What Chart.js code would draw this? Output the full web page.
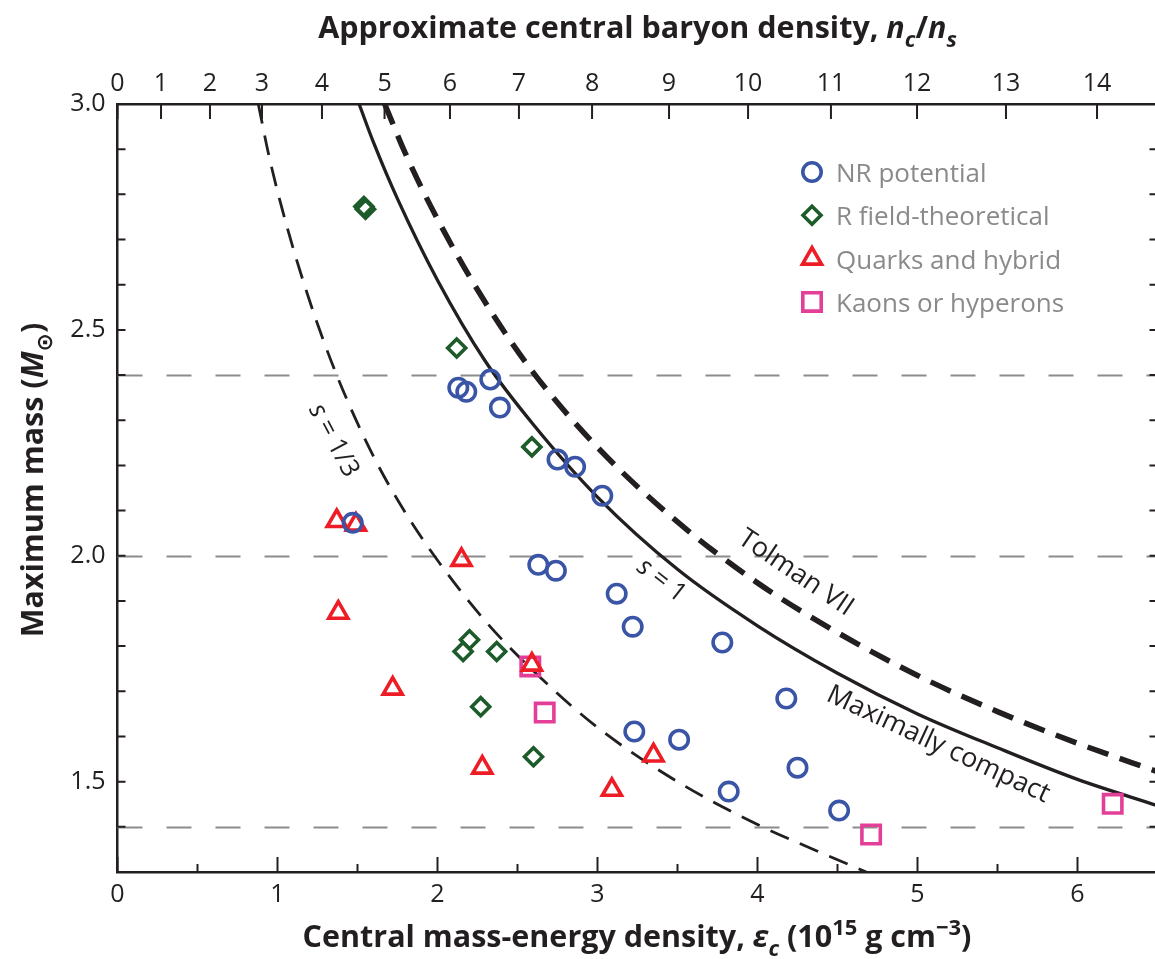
<!DOCTYPE html>
<html>
<head>
<meta charset="utf-8">
<script src="https://cdn.jsdelivr.net/npm/chart.js@4.4.1/dist/chart.umd.min.js"></script>
<style>
  html, body { margin: 0; padding: 0; background: #fff; overflow: hidden; }
  #wrap { position: relative; width: 1160px; height: 959px; }
</style>
</head>
<body>
<div id="wrap"><canvas id="chart" width="1160" height="959"></canvas></div>
<script>
// values: [central density eps_c, max mass]
const nrPotential = [
  [2.13, 2.372], [2.18, 2.363], [2.33, 2.390], [2.39, 2.328], [2.75, 2.213], [2.86, 2.197],
  [3.03, 2.133], [1.47, 2.073], [2.63, 1.980], [2.74, 1.967], [3.12, 1.916], [3.22, 1.843],
  [3.23, 1.611], [3.78, 1.808], [4.18, 1.684], [3.51, 1.593], [4.25, 1.531], [3.82, 1.478],
  [4.51, 1.436]
]
const rFieldTheoretical = [
  [1.54, 2.773], [1.55, 2.767], [2.12, 2.460], [2.59, 2.241], [2.20, 1.814], [2.16, 1.788],
  [2.37, 1.788], [2.27, 1.666], [2.60, 1.555]
]
const quarksHybrid = [
  [1.37, 2.077], [1.49, 2.069], [2.15, 1.991], [1.38, 1.874], [1.72, 1.706], [2.59, 1.759],
  [3.35, 1.558], [3.09, 1.482], [2.28, 1.531]
]
const kaonsHyperons = [[2.58, 1.755], [2.67, 1.653], [4.71, 1.383], [6.22, 1.451]]

// curves
const sOneThird = [
  [0.88, 3.0], [0.95, 2.88], [1.05, 2.74], [1.2, 2.565], [1.37, 2.40], [1.6, 2.22], [1.8, 2.095],
  [2.0, 1.99], [2.3, 1.855], [2.6, 1.745], [3.0, 1.62], [3.5, 1.50], [4.0, 1.405], [4.35, 1.35], [4.68, 1.30]
]
const sOne = [
  [1.51, 3.0], [1.6, 2.915], [1.75, 2.79], [2.0, 2.61], [2.3, 2.43], [2.6, 2.29], [3.0, 2.13],
  [3.5, 1.97], [4.0, 1.845], [4.5, 1.74], [5.0, 1.65], [5.5, 1.575], [6.0, 1.505], [6.5, 1.447]
]
const tolmanVII = [
  [1.67, 3.0], [1.8, 2.89], [2.0, 2.745], [2.3, 2.56], [2.6, 2.405], [3.0, 2.24], [3.5, 2.075],
  [4.0, 1.94], [4.5, 1.83], [5.0, 1.735], [5.5, 1.655], [6.0, 1.585], [6.5, 1.522]
]
const referenceMasses = [2.4, 2.0, 1.4]

// top axis: n_c/n_s labels and where they sit on the eps_c scale
const topTickLabels = ['0', '1', '2', '3', '4', '5', '6', '7', '8', '9', '10', '11', '12', '13', '14']
const topTickPositions = [0, 0.272, 0.578, 0.903, 1.278, 1.669, 2.078, 2.509, 2.966, 3.447, 3.941, 4.459, 4.997, 5.553, 6.122]

const ink = '#231f20'
const blue = '#3a55a5'
const green = '#1d5c2a'
const red = '#ee1c25'
const pink = '#e33f98'
const FAMILY = "'Open Sans', 'DejaVu Sans', sans-serif"

const pts = arr => arr.map(([x, y]) => ({ x, y }))

function fontFor(style, size) {
  const italic = style.includes('i') ? 'italic ' : ''
  const weight = style.includes('b') ? '700 ' : '400 '
  return italic + weight + size + 'px ' + FAMILY
}
function partSize(pos, size) { return pos ? size * 0.72 : size }
function richWidth(ctx, parts, size) {
  let w = 0
  for (const [text, style, pos] of parts) {
    ctx.font = fontFor(style, partSize(pos, size))
    w += ctx.measureText(text).width
  }
  return w
}
function drawRich(ctx, parts, x, y, size) {
  let cx = x - richWidth(ctx, parts, size) / 2
  for (const [text, style, pos] of parts) {
    const dy = pos === 'sub' ? size * 0.28 : pos === 'sup' ? -size * 0.38 : 0
    ctx.font = fontFor(style, partSize(pos, size))
    ctx.fillText(text, cx, y + dy)
    cx += ctx.measureText(text).width
  }
}

const topTitle = [['Approximate central baryon density, ', 'b'], ['n', 'bi'], ['c', 'bi', 'sub'], ['/', 'b'], ['n', 'bi'], ['s', 'bi', 'sub']]
const bottomTitle = [['Central mass-energy density, ', 'b'], ['ε', 'bi'], ['c', 'bi', 'sub'], [' (10', 'b'], ['15', 'b', 'sup'], [' g cm', 'b'], ['−3', 'b', 'sup'], [')', 'b']]
const leftTitle = [['Maximum mass (', 'b'], ['M', 'bi'], ['⊙', 'b', 'sub'], [')', 'b']]

const annotations = [
  { parts: [['s', 'i'], [' = 1/3', '']], x: 1.35, y: 2.255, angle: 62, size: 26 },
  { parts: [['s', 'i'], [' = 1', '']], x: 3.40, y: 1.945, angle: 38, size: 26 },
  { parts: [['Tolman VII', '']], x: 4.24, y: 1.962, angle: 34, size: 27 },
  { parts: [['Maximally compact', '']], x: 5.13, y: 1.582, angle: 25, size: 27 }
]

const legendItems = [
  { text: 'NR potential', style: 'circle', color: blue },
  { text: 'R field-theoretical', style: 'rectRot', color: green },
  { text: 'Quarks and hybrid', style: 'triangle', color: red },
  { text: 'Kaons or hyperons', style: 'rect', color: pink }
]

function drawMarker(ctx, style, x, y) {
  ctx.beginPath()
  if (style === 'circle') {
    ctx.arc(x, y, 9.2, 0, Math.PI * 2)
  } else if (style === 'rectRot') {
    const r = 9
    ctx.moveTo(x, y - r); ctx.lineTo(x + r, y); ctx.lineTo(x, y + r); ctx.lineTo(x - r, y); ctx.closePath()
  } else if (style === 'triangle') {
    const r = 11
    ctx.moveTo(x, y - r)
    ctx.lineTo(x + r * Math.sin(2 * Math.PI / 3), y - r * Math.cos(2 * Math.PI / 3))
    ctx.lineTo(x - r * Math.sin(2 * Math.PI / 3), y - r * Math.cos(2 * Math.PI / 3))
    ctx.closePath()
  } else {
    const h = 13 * Math.SQRT1_2
    ctx.rect(x - h, y - h, 2 * h, 2 * h)
  }
  ctx.stroke()
}

const decorations = {
  id: 'decorations',
  beforeDatasetsDraw(chart) {
    const { ctx, chartArea: a, scales } = chart
    ctx.save()
    ctx.strokeStyle = '#8c8c8c'
    ctx.lineWidth = 2
    ctx.setLineDash([25, 24])
    referenceMasses.forEach(m => {
      const py = Math.round(scales.y.getPixelForValue(m)) + 0.5
      ctx.beginPath()
      ctx.moveTo(a.left, py)
      ctx.lineTo(a.right, py)
      ctx.stroke()
    })
    ctx.restore()
  },
  afterDraw(chart) {
    const { ctx, chartArea: a, scales } = chart
    ctx.save()
    // inward tick marks
    ctx.strokeStyle = ink
    ctx.lineWidth = 2
    ctx.beginPath()
    scales.x.ticks.forEach(t => {
      const px = scales.x.getPixelForValue(t.value)
      const major = Math.abs(t.value - Math.round(t.value)) < 1e-6
      ctx.moveTo(px, a.bottom)
      ctx.lineTo(px, a.bottom - (major ? 15 : 8))
    })
    scales.x2.ticks.forEach(t => {
      const px = scales.x2.getPixelForValue(t.value)
      ctx.moveTo(px, a.top)
      ctx.lineTo(px, a.top + 15)
    })
    scales.y.ticks.forEach(t => {
      const py = scales.y.getPixelForValue(t.value)
      ctx.moveTo(a.left, py)
      ctx.lineTo(a.left + 8, py)
      ctx.moveTo(a.right, py)
      ctx.lineTo(a.right - 8, py)
    })
    ctx.stroke()

    // curve labels
    ctx.fillStyle = ink
    ctx.textBaseline = 'middle'
    annotations.forEach(n => {
      ctx.save()
      ctx.translate(scales.x.getPixelForValue(n.x), scales.y.getPixelForValue(n.y))
      ctx.rotate(n.angle * Math.PI / 180)
      drawRich(ctx, n.parts, 0, 0, n.size)
      ctx.restore()
    })

    // legend
    ctx.textBaseline = 'alphabetic'
    ctx.textAlign = 'left'
    legendItems.forEach((item, i) => {
      const y = 172 + i * 43.3
      ctx.strokeStyle = item.color
      ctx.lineWidth = 3.6
      ctx.lineJoin = 'miter'
      drawMarker(ctx, item.style, 812, y)
      ctx.fillStyle = '#8a8a8c'
      ctx.font = '400 26px ' + FAMILY
      ctx.fillText(item.text, 836, y + 10)
    })

    // axis titles
    ctx.fillStyle = ink
    const titleSize = 100 * 639 / richWidth(ctx, topTitle, 100)
    drawRich(ctx, topTitle, 637.5, 38, titleSize)
    drawRich(ctx, bottomTitle, 637, 947, titleSize)
    ctx.save()
    ctx.translate(43, 480)
    ctx.rotate(-Math.PI / 2)
    drawRich(ctx, leftTitle, 0, 0, titleSize)
    ctx.restore()
    ctx.restore()
  }
}

const markerSet = (label, data, style, color, radius) => ({
  label,
  data: pts(data),
  pointStyle: style,
  pointRadius: radius,
  pointHoverRadius: radius,
  pointBorderWidth: 3.6,
  borderColor: color,
  pointBorderColor: color,
  backgroundColor: 'rgba(0,0,0,0)',
  pointBackgroundColor: 'rgba(0,0,0,0)'
})
const curveSet = (label, data, width, dash) => ({
  label,
  data: pts(data),
  showLine: true,
  pointRadius: 0,
  borderColor: ink,
  borderWidth: width,
  borderDash: dash,
  cubicInterpolationMode: 'monotone'
})

const axisBorder = { display: true, color: ink, width: 2.5 }
const tickFont = { family: FAMILY, size: 25 }
const noSidePadding = s => { s.paddingLeft = 0; s.paddingRight = 0 }

new Chart(document.getElementById('chart').getContext('2d'), {
  type: 'scatter',
  data: {
    datasets: [
      markerSet('NR potential', nrPotential, 'circle', blue, 9.2),
      markerSet('R field-theoretical', rFieldTheoretical, 'rectRot', green, 9),
      markerSet('Quarks and hybrid', quarksHybrid, 'triangle', red, 11),
      markerSet('Kaons or hyperons', kaonsHyperons, 'rect', pink, 13),
      curveSet('s = 1/3', sOneThird, 2.8, [20, 12]),
      curveSet('s = 1', sOne, 3.3, []),
      curveSet('Tolman VII', tolmanVII, 5.5, [22, 12])
    ]
  },
  options: {
    responsive: false,
    animation: false,
    layout: { padding: 0, autoPadding: false },
    plugins: { legend: { display: false }, tooltip: { enabled: false } },
    scales: {
      x: {
        type: 'linear', position: 'bottom', min: 0, max: 6.5,
        afterFit: s => { s.height = 87; noSidePadding(s) },
        grid: { display: false, drawTicks: false },
        border: axisBorder,
        ticks: {
          stepSize: 0.5, autoSkip: false, maxRotation: 0, padding: 8, color: ink, font: tickFont,
          callback: v => Math.abs(v - Math.round(v)) < 1e-6 ? String(Math.round(v)) : ''
        }
      },
      x2: {
        type: 'linear', position: 'top', min: 0, max: 6.5,
        afterFit: s => { s.height = 104; noSidePadding(s) },
        afterBuildTicks: s => { s.ticks = topTickPositions.map(v => ({ value: v })) },
        grid: { display: false, drawTicks: false },
        border: axisBorder,
        ticks: {
          autoSkip: false, maxRotation: 0, padding: 5, color: ink, font: tickFont,
          callback: (v, i) => topTickLabels[i]
        }
      },
      y: {
        type: 'linear', position: 'left', min: 1.3, max: 3.0,
        afterFit: s => { s.width = 117.5 },
        grid: { display: false, drawTicks: false },
        border: axisBorder,
        ticks: {
          stepSize: 0.1, autoSkip: false, padding: 12, color: ink, font: tickFont,
          callback: v => Math.abs(v * 2 - Math.round(v * 2)) < 1e-6 ? v.toFixed(1) : ''
        }
      },
      y2: {
        type: 'linear', position: 'right', min: 1.3, max: 3.0,
        afterFit: s => { s.width = 2.5 },
        grid: { display: false, drawTicks: false },
        border: axisBorder,
        ticks: { display: false }
      }
    }
  },
  plugins: [decorations]
})
</script>
</body>
</html>
